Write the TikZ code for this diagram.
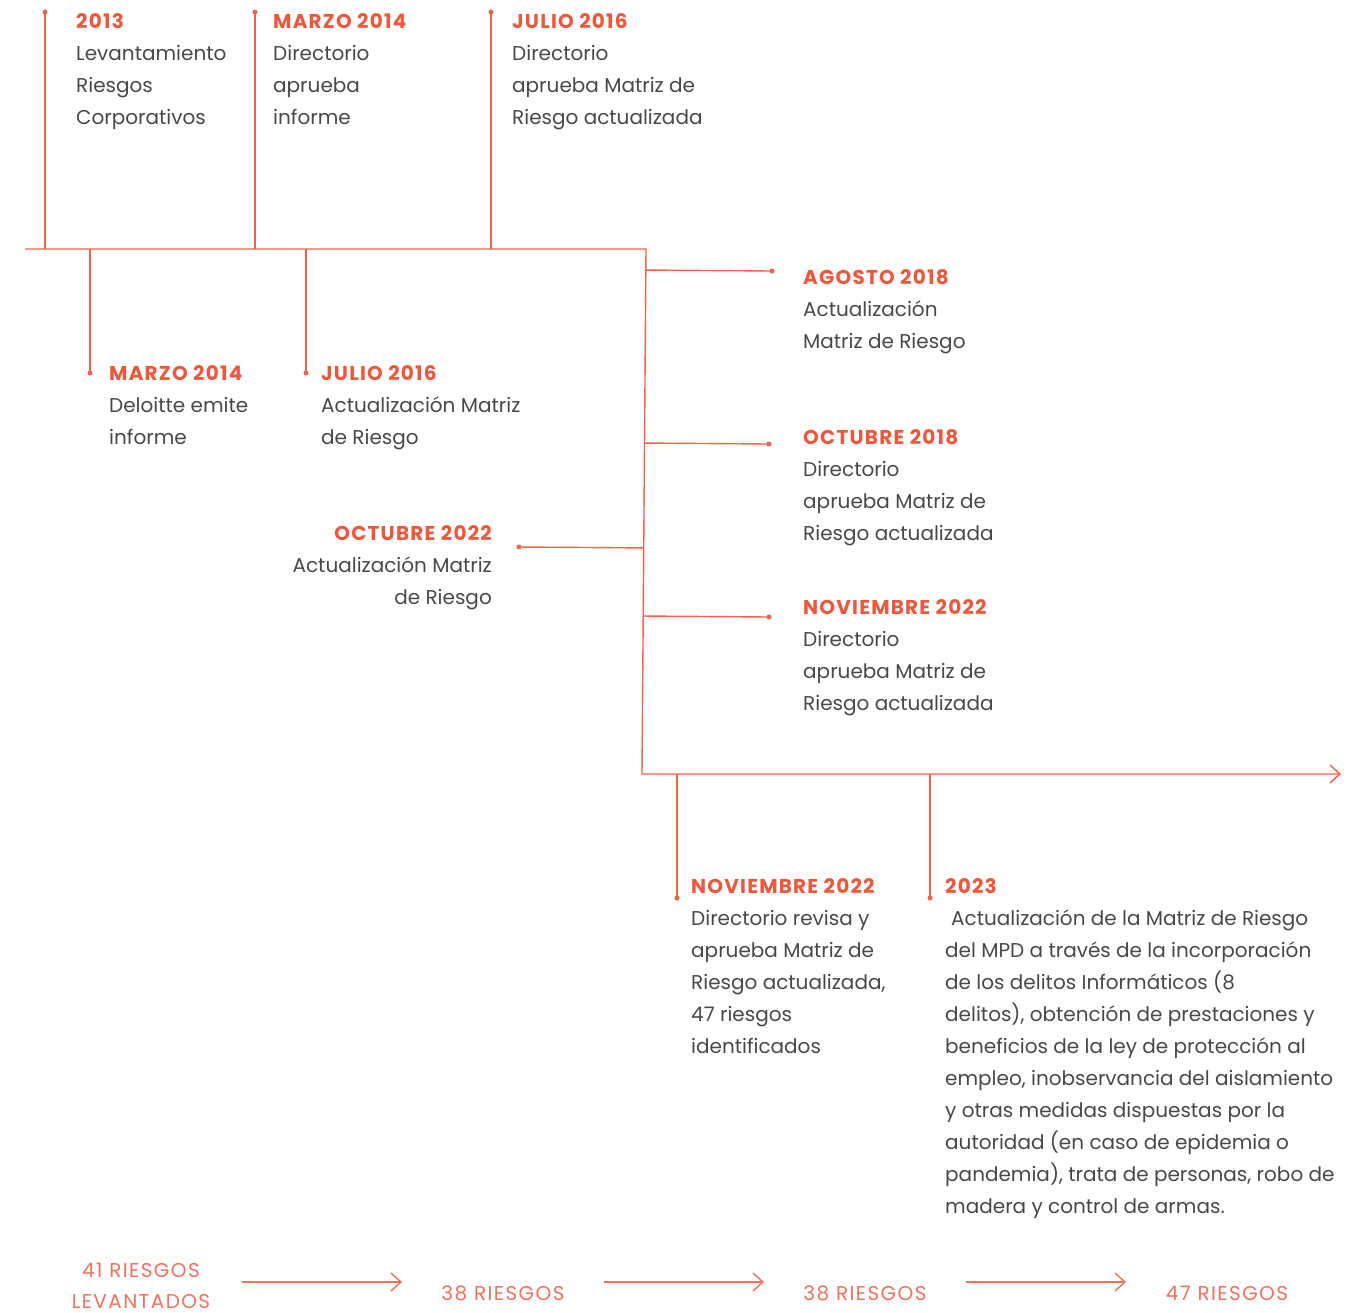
\documentclass[tikz,border=0pt]{standalone}
\usepackage{fontspec}
\setmainfont{Poppins}
\usetikzlibrary{arrows.meta,calc}
\definecolor{tlorange}{RGB}{242,86,58}
\definecolor{tlline}{RGB}{240,98,74}
\definecolor{tlgray}{RGB}{72,72,72}
\definecolor{tlsalmon}{RGB}{244,112,92}
\newcommand\etitle[1]{{\color{tlorange}\bfseries\addfontfeature{LetterSpace=6}#1}}

\begin{document}
\begin{tikzpicture}[x=1pt,y=-1pt,
    tline/.style={tlline, line width=1.4pt},
    dot/.style={circle, fill=tlline, inner sep=0pt, minimum size=5pt},
    event/.style={anchor=north west, align=left, inner sep=0pt, text=tlgray,
      font=\fontsize{20}{32}\selectfont},
    eventr/.style={event, anchor=north east, align=right},
    risk/.style={align=center, inner sep=0pt, text=tlsalmon,
      font=\fontsize{20}{31}\selectfont\addfontfeature{LetterSpace=7}},
    riskarrow/.style={tlsalmon, line width=1.4pt, -{Straight Barb[length=10pt,width=18pt]}}]
  %%%%% FRAME %%%%%
  \useasboundingbox (0,0) rectangle (1351,1312);

  %%%%% TIMELINE %%%%%
  \coordinate (tlstart) at (25,249);
  \coordinate (tlcorner) at (646,249);
  \coordinate (tlbend) at (642,774);
  \coordinate (tlend) at (1341,774);
  \draw[tline, -{Straight Barb[length=10pt,width=18pt]}]
    (tlstart) -- (tlcorner) -- (tlbend) -- (tlend);

  % upward ticks
  \node[dot] (up1) at (45,12) {};
  \node[dot] (up2) at (255,12) {};
  \node[dot] (up3) at (491,12) {};
  \foreach \d in {up1,up2,up3}
    \draw[tline] (\d.center) -- (\d |- tlstart);

  % downward ticks
  \node[dot] (dn1) at (90,373) {};
  \node[dot] (dn2) at (306,373) {};
  \node[dot] (dn3) at (677,898) {};
  \node[dot] (dn4) at (930,898) {};
  \foreach \d in {dn1,dn2}
    \draw[tline] (\d.center) -- (\d |- tlstart);
  \foreach \d in {dn3,dn4}
    \draw[tline] (\d.center) -- (\d |- tlbend);

  % side branches
  \node[dot] (sd1) at (772,271) {};
  \node[dot] (sd2) at (769,444) {};
  \node[dot] (sd3) at (519,547) {};
  \node[dot] (sd4) at (769,617) {};
  \foreach \d in {sd1,sd2,sd3,sd4}
    \draw[tline] (\d.center) -- ($(tlcorner)!(\d.center)!(tlbend)$);

  %%%%% EVENTS %%%%%
  \node[event] (ev2013) at (76,13) {\etitle{2013}\\Levantamiento\\Riesgos\\Corporativos};
  \node[event] (evmarA) at (273,13) {\etitle{MARZO 2014}\\Directorio\\aprueba\\informe};
  \node[event] (evjulA) at (512,13) {\etitle{JULIO 2016}\\Directorio\\aprueba Matriz de\\Riesgo actualizada};

  \node[event] (evmarB) at (109,365) {\etitle{MARZO 2014}\\Deloitte emite\\informe};
  \node[event] (evjulB) at (321,365) {\etitle{JULIO 2016}\\Actualización Matriz\\de Riesgo};

  \node[event] (evago18) at (803,269) {\etitle{AGOSTO 2018}\\Actualización\\Matriz de Riesgo};
  \node[event] (evoct18) at (803,429) {\etitle{OCTUBRE 2018}\\Directorio\\aprueba Matriz de\\Riesgo actualizada};
  \node[event] (evnovA) at (803,599) {\etitle{NOVIEMBRE 2022}\\Directorio\\aprueba Matriz de\\Riesgo actualizada};
  \node[eventr] (evoct22) at (492,525) {\etitle{OCTUBRE 2022}\\Actualización Matriz\\de Riesgo};

  \node[event] (evnovB) at (691,878) {\etitle{NOVIEMBRE 2022}\\Directorio revisa y\\aprueba Matriz de\\Riesgo actualizada,\\47 riesgos\\identificados};
  \node[event] (ev2023) at (945,878) {\etitle{2023}\\\hspace*{6pt}Actualización de la Matriz de Riesgo\\del MPD a través de la incorporación\\de los delitos Informáticos (8\\delitos), obtención de prestaciones y\\beneficios de la ley de protección al\\empleo, inobservancia del aislamiento\\y otras medidas dispuestas por la\\autoridad (en caso de epidemia o\\pandemia), trata de personas, robo de\\madera y control de armas.};

  %%%%% RISK COUNT %%%%%
  \node[risk, anchor=north] (rk1) at (141,1263) {41 RIESGOS\\LEVANTADOS};
  \node[risk] (rk2) at (503,1293) {38 RIESGOS};
  \node[risk] (rk3) at (865,1293) {38 RIESGOS};
  \node[risk] (rk4) at (1227,1293) {47 RIESGOS};
  \coordinate (ar1s) at (242,1282); \coordinate (ar1e) at (402,1282);
  \coordinate (ar2s) at (604,1282); \coordinate (ar2e) at (764,1282);
  \coordinate (ar3s) at (966,1282); \coordinate (ar3e) at (1126,1282);
  \draw[riskarrow] (ar1s) -- (ar1e);
  \draw[riskarrow] (ar2s) -- (ar2e);
  \draw[riskarrow] (ar3s) -- (ar3e);
\end{tikzpicture}
\end{document}
